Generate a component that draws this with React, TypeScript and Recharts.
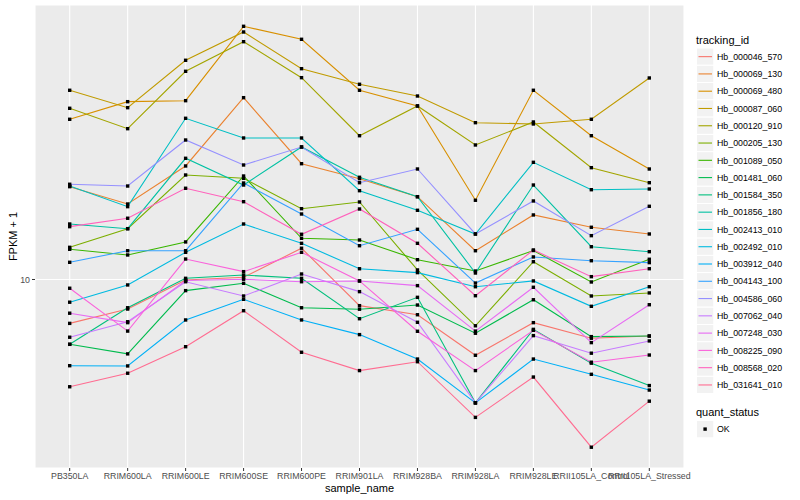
import React from 'react'
import { LineChart, Line, XAxis, YAxis, CartesianGrid } from 'recharts'

// samples on the x axis
const categories = [
  'PB350LA', 'RRIM600LA', 'RRIM600LE', 'RRIM600SE', 'RRIM600PE', 'RRIM901LA',
  'RRIM928BA', 'RRIM928LA', 'RRIM928LE', 'RRII105LA_Control', 'RRII105LA_Stressed',
]

// FPKM + 1 per tracking id, one value per sample
const hb000046_570 = [7.14, 7.97, 9.96, 10.17, 12.71, 8.18, 7.63, 5.59, 7.18, 6.37, 6.48]
const hb000069_130 = [20.39, 17.85, 23.9, 40.37, 24.32, 21.68, 18.88, 12.47, 16.41, 14.93, 14.18]
const hb000069_480 = [34.2, 39.15, 39.45, 69.82, 63.19, 42.73, 37.88, 18.37, 42.73, 30.15, 23.35]
const hb000087_060 = [42.73, 37.39, 53.79, 66.84, 50.43, 44.74, 40.89, 33.32, 32.99, 34.2, 46.96]
const hb000120_910 = [37.21, 31.82, 49.43, 62.04, 47.07, 30.15, 37.88, 28.08, 33.5, 23.59, 21.02]
const hb000205_130 = [12.8, 14.77, 22.3, 21.74, 17.22, 18.13, 10.76, 7.01, 11.46, 8.81, 9.02]
const hb001089_050 = [12.61, 12.07, 13.34, 22.13, 13.72, 13.54, 11.64, 10.67, 12.49, 9.81, 11.68]
const hb001481_060 = [6.08, 5.65, 9.18, 9.71, 8.05, 7.96, 8.22, 6.62, 8.56, 6.45, 6.48]
const hb001584_350 = [6.08, 8.05, 10.09, 10.35, 10.09, 7.4, 8.72, 3.88, 6.82, 5.26, 4.43]
const hb001856_180 = [15.31, 14.77, 25.35, 20.65, 27.65, 21.91, 18.88, 10.51, 20.65, 12.86, 12.38]
const hb002413_010 = [20.49, 17.49, 34.46, 29.63, 29.63, 19.77, 17.01, 14.18, 24.58, 19.92, 20.03]
const hb002492_010 = [8.4, 9.59, 12.32, 15.31, 13.2, 10.86, 10.54, 9.46, 9.89, 8.14, 9.46]
const hb003912_040 = [5.16, 5.15, 7.33, 8.59, 7.33, 6.55, 5.43, 3.88, 5.43, 4.83, 4.28]
const hb004143_100 = [11.41, 12.47, 12.47, 20.97, 16.53, 12.96, 14.7, 9.73, 11.89, 11.55, 11.38]
const hb004586_060 = [20.77, 20.49, 29.17, 24.08, 27.65, 21.02, 23.35, 14.18, 18.27, 14.0, 17.54]
const hb007062_040 = [6.42, 7.23, 9.83, 8.81, 10.43, 9.11, 7.2, 3.88, 6.5, 5.68, 6.24]
const hb007248_030 = [7.72, 7.18, 9.92, 10.02, 9.83, 9.89, 9.54, 6.73, 9.42, 6.16, 8.24]
const hb008225_090 = [9.35, 6.73, 11.7, 10.62, 12.32, 9.89, 6.72, 4.97, 6.77, 5.3, 5.6]
const hb008568_020 = [15.0, 16.0, 20.14, 18.17, 14.15, 17.18, 13.2, 8.83, 12.54, 10.22, 10.86]
const hb031641_010 = [4.39, 4.87, 5.97, 7.87, 5.72, 4.97, 5.32, 3.47, 4.73, 2.76, 3.93]

const series: [string, number[]][] = [
  ['Hb_000046_570', hb000046_570],
  ['Hb_000069_130', hb000069_130],
  ['Hb_000069_480', hb000069_480],
  ['Hb_000087_060', hb000087_060],
  ['Hb_000120_910', hb000120_910],
  ['Hb_000205_130', hb000205_130],
  ['Hb_001089_050', hb001089_050],
  ['Hb_001481_060', hb001481_060],
  ['Hb_001584_350', hb001584_350],
  ['Hb_001856_180', hb001856_180],
  ['Hb_002413_010', hb002413_010],
  ['Hb_002492_010', hb002492_010],
  ['Hb_003912_040', hb003912_040],
  ['Hb_004143_100', hb004143_100],
  ['Hb_004586_060', hb004586_060],
  ['Hb_007062_040', hb007062_040],
  ['Hb_007248_030', hb007248_030],
  ['Hb_008225_090', hb008225_090],
  ['Hb_008568_020', hb008568_020],
  ['Hb_031641_010', hb031641_010],
]

const yTicks = [10]
const yDomain = [2.353, 82.22]

// ggplot hue palette for 20 groups
const palette = [
  '#F8766D', '#EA8331', '#D89000', '#C09B00', '#A3A500', '#7CAE00', '#39B600',
  '#00BB4E', '#00BF7D', '#00C1A3', '#00BFC4', '#00BAE0', '#00B0F6', '#35A2FF',
  '#9590FF', '#C77CFF', '#E76BF3', '#FA62DB', '#FF62BC', '#FF6C91',
]

const data = categories.map((sample, i) => {
  const row: Record<string, string | number> = { sample }
  series.forEach(([id, vals]) => { row[id] = vals[i] })
  return row
})

const FONT = '"Liberation Sans", Arial, Helvetica, sans-serif'

const SquareDot = (props: any) => {
  const { cx, cy, index } = props
  if (cx == null || cy == null) return <g key={`n-${index}`} />
  return <rect key={`d-${index}`} x={cx - 1.7} y={cy - 1.7} width={3.4} height={3.4} fill="#000" />
}

function LegendPanel() {
  const rowH = 17.28
  const top = 48
  return (
    <svg width={115} height={500} style={{ position: 'absolute', left: 685, top: 0 }}>
      <text x={11} y={44} fontSize={11} fill="#000">tracking_id</text>
      {series.map(([id], j) => {
        const y = top + j * rowH
        return (
          <g key={id}>
            <rect x={11.5} y={y} width={17.28} height={17.28} fill="#F2F2F2" stroke="#fff" strokeWidth={1} />
            <line x1={13.5} x2={27} y1={y + rowH / 2} y2={y + rowH / 2} stroke={palette[j]} strokeWidth={1.1} />
            <text x={32} y={y + rowH / 2 + 3.2} fontSize={8.8} fill="#000">{id}</text>
          </g>
        )
      })}
      <text x={11} y={416} fontSize={11} fill="#000">quant_status</text>
      <rect x={11.5} y={420.5} width={17.28} height={17.28} fill="#F2F2F2" stroke="#fff" />
      <rect x={18.4} y={427.4} width={3.4} height={3.4} fill="#000" />
      <text x={32} y={432.3} fontSize={8.8} fill="#000">OK</text>
    </svg>
  )
}

export default function App() {
  return (
    <div style={{ position: 'absolute', left: 0, top: 0, width: 800, height: 500, background: '#fff', fontFamily: FONT }}>
      <LineChart width={800} height={500} data={data} margin={{ top: 5, right: 116, bottom: 0, left: 0 }}>
        <CartesianGrid fill="#EBEBEB" stroke="#fff" strokeWidth={1.1} />
        <XAxis
          dataKey="sample"
          interval={0}
          padding={{ left: 34.7, right: 34.7 }}
          axisLine={false}
          tickSize={3}
          tickMargin={2}
          height={32}
          tickLine={{ stroke: '#333333' }}
          tick={{ fontSize: 8.8, fill: '#4D4D4D' }}
        />
        <YAxis
          scale="log"
          domain={yDomain}
          ticks={yTicks}
          allowDataOverflow
          width={35}
          axisLine={false}
          tickSize={3}
          tickMargin={2}
          tickLine={{ stroke: '#333333' }}
          tick={{ fontSize: 8.8, fill: '#4D4D4D' }}
        />
        {series.map(([id], j) => (
          <Line key={id} dataKey={id} stroke={palette[j]} strokeWidth={1.1} dot={false}
            activeDot={false} isAnimationActive={false} type="linear" />
        ))}
        {series.map(([id]) => (
          <Line key={`pt-${id}`} dataKey={id} stroke="none" dot={SquareDot}
            activeDot={false} isAnimationActive={false} type="linear" />
        ))}
      </LineChart>
      <svg width={800} height={500} style={{ position: 'absolute', left: 0, top: 0, pointerEvents: 'none' }}>
        <text x={359.5} y={492} fontSize={11} textAnchor="middle" fill="#000">sample_name</text>
        <text x={0} y={0} fontSize={11} textAnchor="middle" fill="#000" transform="translate(16.5 236.5) rotate(-90)">FPKM + 1</text>
      </svg>
      <LegendPanel />
    </div>
  )
}
